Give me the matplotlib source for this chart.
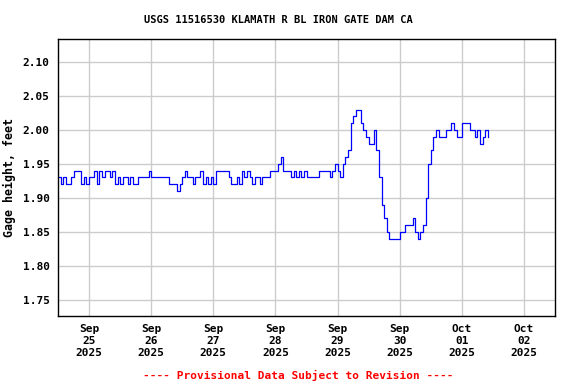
# USGS gage height chart, KLAMATH R BL IRON GATE DAM
import matplotlib
matplotlib.use("Agg")
import matplotlib.pyplot as plt
import matplotlib.dates as mdates
import pandas as pd

# hourly readings starting Sep 24 2025 12:00
start_time = "2025-09-24 12:00"
gage_ft = [
    # Sep 24 12:00 - 23:00
    1.93, 1.92, 1.93, 1.92, 1.92, 1.93, 1.94, 1.94, 1.94, 1.92, 1.93, 1.92,
    # Sep 25
    1.93, 1.93, 1.94, 1.92, 1.94, 1.93, 1.94, 1.94, 1.93, 1.94, 1.92, 1.93,
    1.92, 1.93, 1.93, 1.92, 1.93, 1.92, 1.92, 1.93, 1.93, 1.93, 1.93, 1.94,
    # Sep 26
    1.93, 1.93, 1.93, 1.93, 1.93, 1.93, 1.93, 1.92, 1.92, 1.92, 1.91, 1.92,
    1.93, 1.94, 1.93, 1.93, 1.92, 1.93, 1.93, 1.94, 1.92, 1.93, 1.92, 1.93,
    # Sep 27
    1.92, 1.94, 1.94, 1.94, 1.94, 1.94, 1.93, 1.92, 1.92, 1.93, 1.92, 1.94,
    1.93, 1.94, 1.93, 1.92, 1.93, 1.93, 1.92, 1.93, 1.93, 1.93, 1.94, 1.94,
    # Sep 28
    1.94, 1.95, 1.96, 1.94, 1.94, 1.94, 1.93, 1.94, 1.93, 1.94, 1.93, 1.94,
    1.93, 1.93, 1.93, 1.93, 1.93, 1.94, 1.94, 1.94, 1.94, 1.93, 1.94, 1.95,
    # Sep 29
    1.94, 1.93, 1.95, 1.96, 1.97, 2.01, 2.02, 2.03, 2.03, 2.01, 2.00, 1.99,
    1.98, 1.98, 2.00, 1.97, 1.93, 1.89, 1.87, 1.85, 1.84, 1.84, 1.84, 1.84,
    # Sep 30
    1.85, 1.85, 1.86, 1.86, 1.86, 1.87, 1.85, 1.84, 1.85, 1.86, 1.90, 1.95,
    1.97, 1.99, 2.00, 1.99, 1.99, 1.99, 2.00, 2.00, 2.01, 2.00, 1.99, 1.99,
    # Oct 01
    2.01, 2.01, 2.01, 2.00, 2.00, 1.99, 2.00, 1.98, 1.99, 2.00, 1.99,
]

y_ticks = [1.75, 1.80, 1.85, 1.90, 1.95, 2.00, 2.05, 2.10]

title = "USGS 11516530 KLAMATH R BL IRON GATE DAM CA"
ylab = "Gage height, feet"
footer = "---- Provisional Data Subject to Revision ----"

times = pd.date_range(start_time, periods=len(gage_ft), freq="h")

plt.rcParams["font.family"] = "DejaVu Sans Mono"
plt.rcParams["font.weight"] = "bold"

fig = plt.figure(figsize=(5.76, 3.84), dpi=100)
ax = fig.add_axes([58 / 576, 1 - 316 / 384, 497 / 576, 277 / 384])

ax.plot(times, gage_ft, color="#0000ff", linewidth=0.9, drawstyle="steps-post")

ax.set_xlim(pd.Timestamp("2025-09-24 12:00"), pd.Timestamp("2025-10-02 12:00"))
ax.set_ylim(1.726, 2.134)
ax.set_yticks(y_ticks)
ax.set_yticklabels([f"{v:.2f}" for v in y_ticks])

ax.xaxis.set_major_locator(mdates.DayLocator())
ax.xaxis.set_major_formatter(mdates.DateFormatter("%b\n%d\n%Y"))

ax.grid(True, color="#cccccc", linewidth=1.0)
ax.set_axisbelow(True)
ax.tick_params(axis="both", length=0, labelsize=8, pad=6)
for lab in ax.get_xticklabels() + ax.get_yticklabels():
    lab.set_fontweight("bold")
for sp in ax.spines.values():
    sp.set_linewidth(1.0)
    sp.set_color("black")

ax.set_ylabel(ylab, fontsize=8.4, fontweight="bold", labelpad=5)

fig.text(278 / 576, 1 - 20 / 384, title, ha="center", va="center",
         fontsize=7.5, fontweight="bold")
fig.text(298 / 576, 1 - 375 / 384, footer, ha="center", va="center",
         fontsize=8, fontweight="bold", color="red")

fig.savefig("out.png", dpi=100)
plt.close(fig)
